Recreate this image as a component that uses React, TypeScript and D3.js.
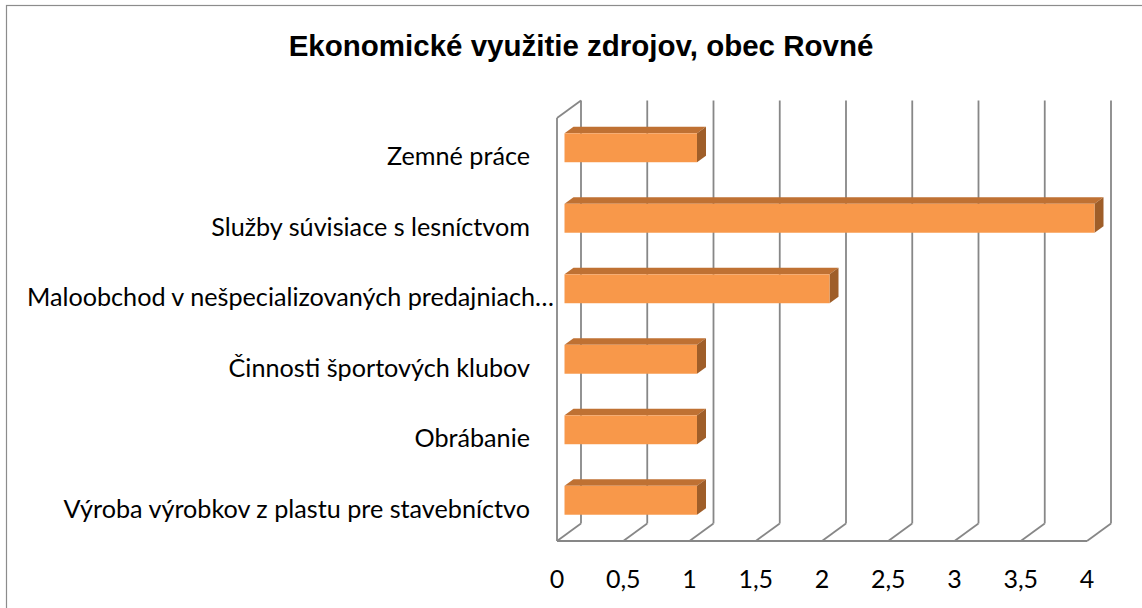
import React from "react";
import * as d3 from "d3";

const TITLE = "Ekonomické využitie zdrojov, obec Rovné";
const categories = [
  "Zemné práce",
  "Služby súvisiace s lesníctvom",
  "Maloobchod v nešpecializovaných predajniach…",
  "Činnosti športových klubov",
  "Obrábanie",
  "Výroba výrobkov z plastu pre stavebníctvo",
];
const values = [1, 4, 2, 1, 1, 1];
const ticks = [0, 0.5, 1, 1.5, 2, 2.5, 3, 3.5, 4];
const tickLabels = ["0", "0,5", "1", "1,5", "2", "2,5", "3", "3,5", "4"];

const W = 1142;
const H = 608;
// front plane
const FX0 = 557;
const FX1 = 1087;
const FY0 = 118;
const FY1 = 541;
// depth offset to back plane
const DX = 24;
const DY = -17.5;

export default function App() {
  const x = d3.scaleLinear().domain([0, 4]).range([FX0, FX1]);
  const y = d3
    .scaleBand<string>()
    .domain(categories)
    .range([FY0, FY1])
    .paddingInner(0.59)
    .paddingOuter(0.295);

  // bar depth position (fractions of the full depth)
  const d1 = 7.5 / 24;
  const d2 = 16.5 / 24;
  const gridColor = "#878787";
  const labelFont = "Lato, 'Open Sans', sans-serif";

  return (
    <svg
      width={W}
      height={H}
      style={{ position: "absolute", left: 0, top: 0, background: "#fff" }}
    >
      <rect x={6.5} y={5.5} width={1140} height={610} fill="#fff" stroke="#8c8c8c" strokeWidth={1.2} />
      <text
        x={581}
        y={56}
        textAnchor="middle"
        fontFamily="'Liberation Sans', Arial, sans-serif"
        fontWeight="bold"
        fontSize={29.5}
        fill="#000"
      >
        {TITLE}
      </text>

      {/* back plane verticals */}
      {ticks.map((t) => (
        <line
          key={"b" + t}
          x1={x(t) + DX}
          x2={x(t) + DX}
          y1={FY0 + DY}
          y2={FY1 + DY}
          stroke={gridColor}
          strokeWidth={1.8}
        />
      ))}
      {/* floor diagonals */}
      {ticks.map((t) => (
        <line
          key={"f" + t}
          x1={x(t) + DX}
          x2={x(t)}
          y1={FY1 + DY}
          y2={FY1}
          stroke={gridColor}
          strokeWidth={1.8}
        />
      ))}
      {/* front floor edge */}
      <line x1={FX0} x2={FX1} y1={FY1} y2={FY1} stroke={gridColor} strokeWidth={1.8} />
      {/* left wall */}
      <line x1={FX0} x2={FX0} y1={FY0} y2={FY1} stroke={gridColor} strokeWidth={1.8} />
      <line x1={FX0} x2={FX0 + DX} y1={FY0} y2={FY0 + DY} stroke={gridColor} strokeWidth={1.8} />

      {/* bars */}
      {categories.map((c, i) => {
        const bx0 = x(0) + DX * d1;
        const bx1 = x(values[i]) + DX * d1;
        const by0 = (y(c) as number) + DY * d1;
        const by1 = by0 + y.bandwidth();
        const ox = DX * (d2 - d1);
        const oy = DY * (d2 - d1);
        const top = `M${bx0},${by0} L${bx0 + ox},${by0 + oy} L${bx1 + ox},${by0 + oy} L${bx1},${by0} Z`;
        const side = `M${bx1},${by0} L${bx1 + ox},${by0 + oy} L${bx1 + ox},${by1 + oy} L${bx1},${by1} Z`;
        return (
          <g key={c}>
            <path d={top} fill="#BF7133" />
            <path d={side} fill="#9F5E29" />
            <rect x={bx0} y={by0} width={bx1 - bx0} height={by1 - by0} fill="#F8984A" />
          </g>
        );
      })}

      {/* category labels */}
      {categories.map((c) => (
        <text
          key={"l" + c}
          x={c.endsWith("…") ? FX0 - 3 : FX0 - 27}
          y={(y(c) as number) + y.bandwidth() / 2 + 2}
          textAnchor="end"
          dominantBaseline="central"
          fontFamily={labelFont}
          fontSize={25.2}
          fill="#000"
        >
          {c}
        </text>
      ))}

      {/* tick labels */}
      {ticks.map((t, i) => (
        <text
          key={"t" + t}
          x={x(t)}
          y={578}
          textAnchor="middle"
          dominantBaseline="central"
          fontFamily={labelFont}
          fontSize={25}
          fill="#000"
        >
          {tickLabels[i]}
        </text>
      ))}
    </svg>
  );
}
